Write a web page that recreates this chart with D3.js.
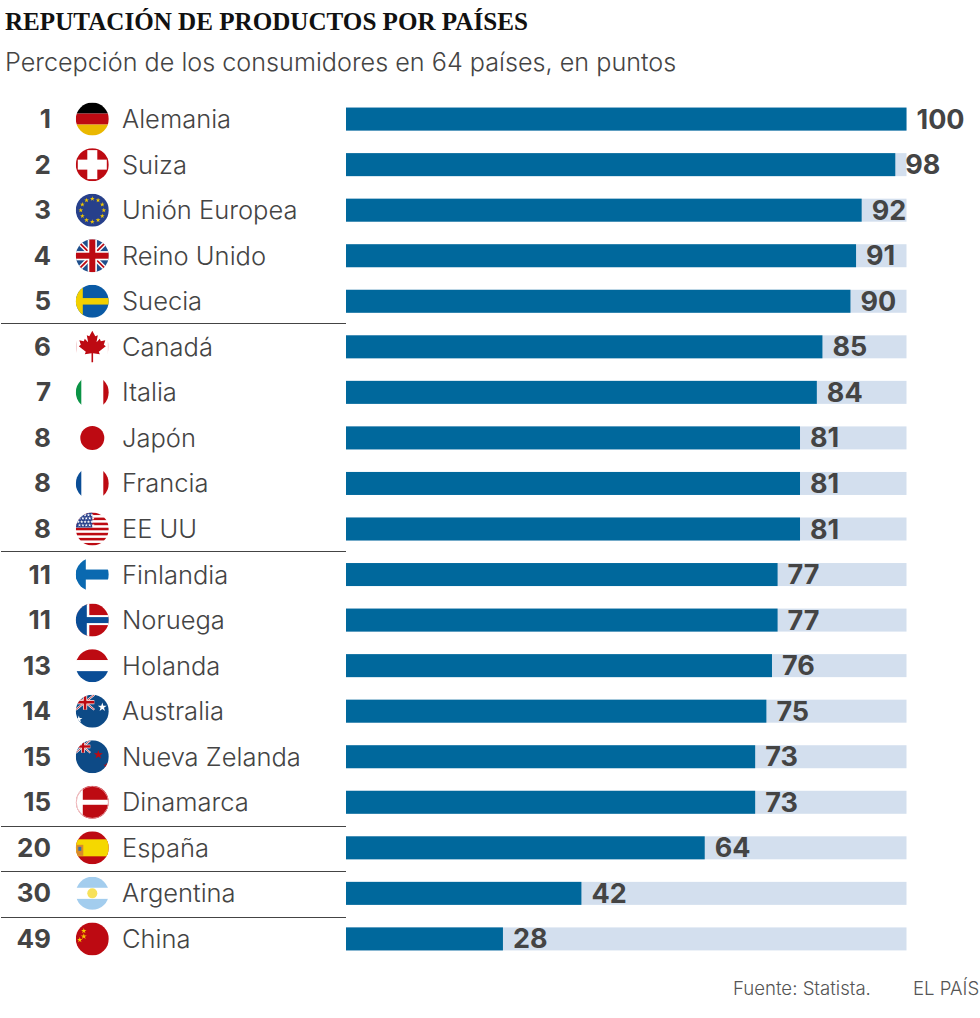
<!DOCTYPE html>
<html>
<head>
<meta charset="utf-8">
<script src="https://cdn.jsdelivr.net/npm/d3@7"></script>
<style>
html,body{margin:0;padding:0;background:#fff;}
svg{display:block;}
text{font-family:Inter,sans-serif;}
</style>
</head>
<body>
<svg class="graph"></svg>
<script>
let ranks=[1,2,3,4,5,6,7,8,8,8,11,11,13,14,15,15,20,30,49]
let countries=['Alemania','Suiza','Unión Europea','Reino Unido','Suecia','Canadá','Italia','Japón','Francia','EE UU','Finlandia','Noruega','Holanda','Australia','Nueva Zelanda','Dinamarca','España','Argentina','China']
let values=[100,98,92,91,90,85,84,81,81,81,77,77,76,75,73,73,64,42,28]
// a rule goes under these rows
let groupEnds=['Suecia','EE UU','Dinamarca','España','Argentina']

let width=980, height=1018
let barColor='#00689c', trackColor='#d3dfee', textColor='#444444'
let red='#bd0a12', navy='#0d4a86'

let svg=d3.select('.graph').attr('width',width).attr('height',height)

let xscale=d3.scaleLinear().domain([0,100]).range([346,906.5])
let yscale=d3.scaleBand().domain(countries).range([96.2,961.8]).paddingInner(0.495).paddingOuter(0.25)

svg.append('text').text('REPUTACIÓN DE PRODUCTOS POR PAÍSES')
   .attr('x',5).attr('y',30)
   .style('font-family','"Liberation Serif",serif').style('font-weight',700)
   .style('font-size','25.1px').attr('fill','#111')

svg.append('text').text('Percepción de los consumidores en 64 países, en puntos')
   .attr('x',5).attr('y',70.5)
   .style('font-size','25.2px').style('font-weight',300).attr('fill',textColor)

let rows=svg.selectAll('.row').data(countries).join('g')
   .attr('class','row')
   .attr('transform',d=>`translate(0,${yscale(d)+yscale.bandwidth()/2})`)

rows.append('rect').attr('class','track')
   .attr('x',xscale(0)).attr('y',-yscale.bandwidth()/2)
   .attr('width',xscale(100)-xscale(0)).attr('height',yscale.bandwidth())
   .attr('fill',trackColor)

rows.append('rect').attr('class','bar')
   .attr('x',xscale(0)).attr('y',-yscale.bandwidth()/2)
   .attr('width',(d,i)=>xscale(values[i])-xscale(0)).attr('height',yscale.bandwidth())
   .attr('fill',barColor)

rows.append('text').attr('class','value')
   .text((d,i)=>values[i])
   .attr('x',(d,i)=>xscale(values[i])+10).attr('y',9.5)
   .style('font-size','27px').style('font-weight',700).attr('fill',textColor)

rows.append('text').attr('class','rank')
   .text((d,i)=>ranks[i])
   .attr('x',51).attr('y',9)
   .attr('text-anchor','end')
   .style('font-size','26px').style('font-weight',700).attr('fill',textColor)

rows.append('text').attr('class','name')
   .text(d=>d)
   .attr('x',122).attr('y',9)
   .style('font-size','25.5px').style('font-weight',300).attr('fill',textColor)

// rules under the groups, the lower ones sit a bit further from their row
function ruleY(d,i){
    return Math.floor(yscale(d)+yscale.bandwidth()/2+(i<2?22:24))+0.5
}
svg.selectAll('.rule').data(groupEnds).join('line')
   .attr('class','rule')
   .attr('x1',1).attr('x2',xscale(0))
   .attr('y1',ruleY).attr('y2',ruleY)
   .attr('stroke','#444').attr('stroke-width',1)

svg.append('text').text('Fuente: Statista.')
   .attr('x',733).attr('y',995).style('font-size','18.6px').style('font-weight',300).attr('fill','#555')
svg.append('text').text('EL PAÍS')
   .attr('x',913).attr('y',995).style('font-size','18.6px').style('font-weight',300).attr('fill','#555')

// flags, all drawn around 0,0 and clipped to the circle
let r=16.5
let defs=svg.append('defs')
defs.append('clipPath').attr('id','flagClip').append('circle').attr('r',r)

function box(g,x,y,w,h,color){
    return g.append('rect').attr('x',x).attr('y',y).attr('width',w).attr('height',h).attr('fill',color)
}
function star(g,x,y,size,color){
    g.append('path').attr('d',d3.symbol().type(d3.symbolStar).size(size)())
     .attr('transform',`translate(${x},${y})`).attr('fill',color)
}
function bars3(g,top,mid,bottom){
    box(g,-r,-r,2*r,11,top); box(g,-r,-5.5,2*r,11,mid); box(g,-r,5.5,2*r,11,bottom)
}
function cols3(g,left,mid,right,w){
    box(g,-r,-r,2*r,2*r,mid); box(g,-r,-r,w,2*r,left); box(g,r-w,-r,w,2*r,right)
}
function diagonal(g,x1,y1,x2,y2,color,sw){
    g.append('line').attr('x1',x1).attr('y1',y1).attr('x2',x2).attr('y2',y2).attr('stroke',color).attr('stroke-width',sw)
}
function union(g,x0,y0,x1,y1,k){
    diagonal(g,x0,y0,x1,y1,'#fff',4.5*k); diagonal(g,x0,y1,x1,y0,'#fff',4.5*k)
    diagonal(g,x0,y0,x1,y1,red,1.8*k); diagonal(g,x0,y1,x1,y0,red,1.8*k)
    let cx=(x0+x1)/2, cy=(y0+y1)/2
    box(g,cx-4.6*k,y0,9.2*k,y1-y0,'#fff'); box(g,x0,cy-4.6*k,x1-x0,9.2*k,'#fff')
    box(g,cx-3*k,y0,6*k,y1-y0,red); box(g,x0,cy-3*k,x1-x0,6*k,red)
}

let flags={
    'Alemania':g=>bars3(g,'#000',red,'#eab800'),
    'Suiza':g=>{
        box(g,-r,-r,2*r,2*r,red)
        box(g,-5,-14.5,10,29,'#fff'); box(g,-14.5,-5,29,10,'#fff')
    },
    'Unión Europea':g=>{
        box(g,-r,-r,2*r,2*r,'#27408b')
        d3.range(12).forEach(i=>{
            let a=i*Math.PI/6
            star(g,11.5*Math.cos(a),11.5*Math.sin(a),7,'#f2c800')
        })
    },
    'Reino Unido':g=>{
        box(g,-r,-r,2*r,2*r,'#1f4f8c')
        union(g,-r,-r,r,r,1)
    },
    'Suecia':g=>{
        box(g,-r,-r,2*r,2*r,'#0a5aa5')
        box(g,-r,-r,7,2*r,'#f2d000'); box(g,-r,-3.2,2*r,6.5,'#f2d000')
    },
    'Canadá':g=>{
        box(g,-r,-r,2*r,2*r,'#fff')
        box(g,-r,-r,1,2*r,'#f3c9cb'); box(g,r-1,-r,1,2*r,'#f3c9cb')
        let half=[[0,-16],[3,-10.5],[5.5,-11.5],[4.2,-4.5],[7.5,-8],[8.5,-5.5],[13,-6.5],[11.5,-2],[13.5,-0.5],[6.5,5],[7.5,7.5],[0.8,6.5],[0.8,15.5]]
        let pts=half.concat(half.slice().reverse().map(p=>[-p[0],p[1]]))
        g.append('path').attr('d',d3.line()(pts)+'Z').attr('fill',red)
    },
    'Italia':g=>cols3(g,'#0a9345','#fff',red,5.5),
    'Japón':g=>{
        box(g,-r,-r,2*r,2*r,'#fff')
        g.append('circle').attr('r',12).attr('fill',red)
    },
    'Francia':g=>cols3(g,'#0a4d96','#fff',red,5.5),
    'EE UU':g=>{
        box(g,-r,-r,2*r,2*r,'#fff')
        d3.range(7).forEach(i=>box(g,-r,-r+i*33/6.5,2*r,2.55,red))
        box(g,-r,-r,16.5,15,'#27408b')
        d3.range(4).forEach(j=>d3.range(5).forEach(i=>star(g,-14+i*3.4+(j%2)*1.2,-14+j*3.4,3.5,'#fff')))
    },
    'Finlandia':g=>{
        box(g,-r,-r,2*r,2*r,'#fff')
        box(g,-r,-r,10,2*r,'#0a69b0'); box(g,-r,-5,2*r,10,'#0a69b0')
    },
    'Noruega':g=>{
        box(g,-r,-r,2*r,2*r,red)
        box(g,-r,-r,13.5,2*r,'#fff'); box(g,-r,-5,2*r,10,'#fff')
        box(g,-r,-r,11,2*r,'#0a4d96'); box(g,-r,-3,2*r,6,'#0a4d96')
    },
    'Holanda':g=>bars3(g,red,'#fff','#0a4d96'),
    'Australia':g=>{
        box(g,-r,-r,2*r,2*r,navy)
        union(g,-r,-r,2,-1.5,0.45)
        star(g,10,-4,24,'#fff')
        star(g,-13.5,8,16,'#fff')
    },
    'Nueva Zelanda':g=>{
        box(g,-r,-r,2*r,2*r,navy)
        union(g,-r,-r,-2,-4,0.4)
        star(g,6,-2,26,red)
        star(g,14,9,10,red)
    },
    'Dinamarca':g=>{
        box(g,-r,-r,2*r,2*r,red)
        box(g,-r,-r,7,2*r,'#fff')
        box(g,-r,-2.5,2*r,5,'#fff')
        g.append('circle').attr('r',r-0.4).attr('fill','none').attr('stroke','#e9a0a4').attr('stroke-width',0.8)
    },
    'España':g=>{
        box(g,-r,-r,2*r,2*r,red)
        box(g,-r,-8.5,2*r,17,'#f5d800')
        box(g,-16,-3,7,11,'#d98a2a')
        box(g,-14,-1,3,4,'#3a6ea5')
    },
    'Argentina':g=>{
        bars3(g,'#a3cdee','#fff','#a3cdee')
        g.append('circle').attr('r',5).attr('fill','#f7e15a')
    },
    'China':g=>{
        box(g,-r,-r,2*r,2*r,red)
        star(g,-8.5,-8,9,'#f5c800'); star(g,-8.5,-2.5,11,'#f5c800'); star(g,-12.5,1,9,'#f5c800')
    }
}

rows.append('g').attr('class','flag')
   .attr('transform','translate(92.3,0)')
   .attr('clip-path','url(#flagClip)')
   .each(function(d){ flags[d](d3.select(this)) })
</script>
</body>
</html>
